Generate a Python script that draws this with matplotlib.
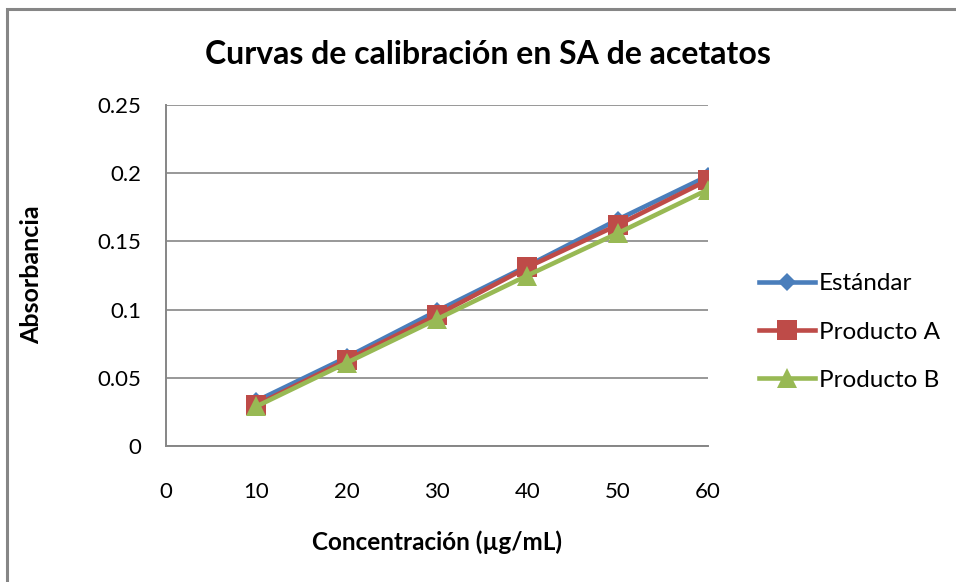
import matplotlib
matplotlib.use("Agg")
import matplotlib.pyplot as plt
from matplotlib.patches import Rectangle

conc = [10, 20, 30, 40, 50, 60]
estandar = [0.033, 0.065, 0.099, 0.132, 0.166, 0.198]
producto_a = [0.030, 0.063, 0.096, 0.131, 0.162, 0.195]
producto_b = [0.029, 0.061, 0.093, 0.125, 0.156, 0.188]
series_names = ["Estándar", "Producto A", "Producto B"]
xticks = [0, 10, 20, 30, 40, 50, 60]
yticks = [0, 0.05, 0.1, 0.15, 0.2, 0.25]
ytick_labels = ["0", "0.05", "0.1", "0.15", "0.2", "0.25"]

plt.rcParams['font.family'] = ['Lato', 'DejaVu Sans']

fig = plt.figure(figsize=(9.56, 5.82), dpi=100)
ax = fig.add_axes([166/956, 1-446/582, (708-166)/956, (446-105)/582])

# outer chart border (only top and left visible in the crop)
fig.add_artist(Rectangle((7/956, -0.1), 1.2, 1 - 9/582 + 0.1, transform=fig.transFigure,
                         fill=False, edgecolor='#868686', linewidth=2.2))

colors = ['#4a7ebb', '#be4b48', '#98b954']
markers = ['D', 's', '^']
msizes = [9, 14, 15]
for vals, name, c, m, ms in zip([estandar, producto_a, producto_b], series_names, colors, markers, msizes):
    ax.plot(conc, vals, color=c, linewidth=3.3, marker=m, markersize=ms,
            markeredgewidth=0, label=name, zorder=3)

ax.set_xlim(0, 60)
ax.set_ylim(0, 0.25)
ax.set_xticks(xticks)
ax.set_yticks(yticks)
ax.set_yticklabels(ytick_labels)
ax.tick_params(length=0, labelsize=16)
ax.tick_params(axis='y', pad=18)
ax.tick_params(axis='x', pad=26)
ax.grid(axis='y', color='#868686', linewidth=1.2)
ax.set_axisbelow(True)
for s in ['top', 'right']:
    ax.spines[s].set_visible(False)
for s in ['left', 'bottom']:
    ax.spines[s].set_color('#868686')
    ax.spines[s].set_linewidth(1.4)

fig.text(437/956, 1-542/582, "Concentración (µg/mL)", ha='center', va='center',
         fontsize=17.5, fontweight='bold')
fig.text(32/956, 1-275/582, "Absorbancia", ha='center', va='center', rotation=90,
         fontsize=18, fontweight='bold')
fig.text(488/956, 1-55/582, "Curvas de calibración en SA de acetatos", ha='center', va='center',
         fontsize=23, fontweight='bold')

leg = ax.legend(loc='center left', bbox_to_anchor=(759/956, 1-332/582), bbox_transform=fig.transFigure,
                frameon=False, fontsize=17.5, handlelength=2.3, labelspacing=1.12,
                handletextpad=0.15, borderaxespad=0, borderpad=0)

fig.savefig("out.png", dpi=100)
